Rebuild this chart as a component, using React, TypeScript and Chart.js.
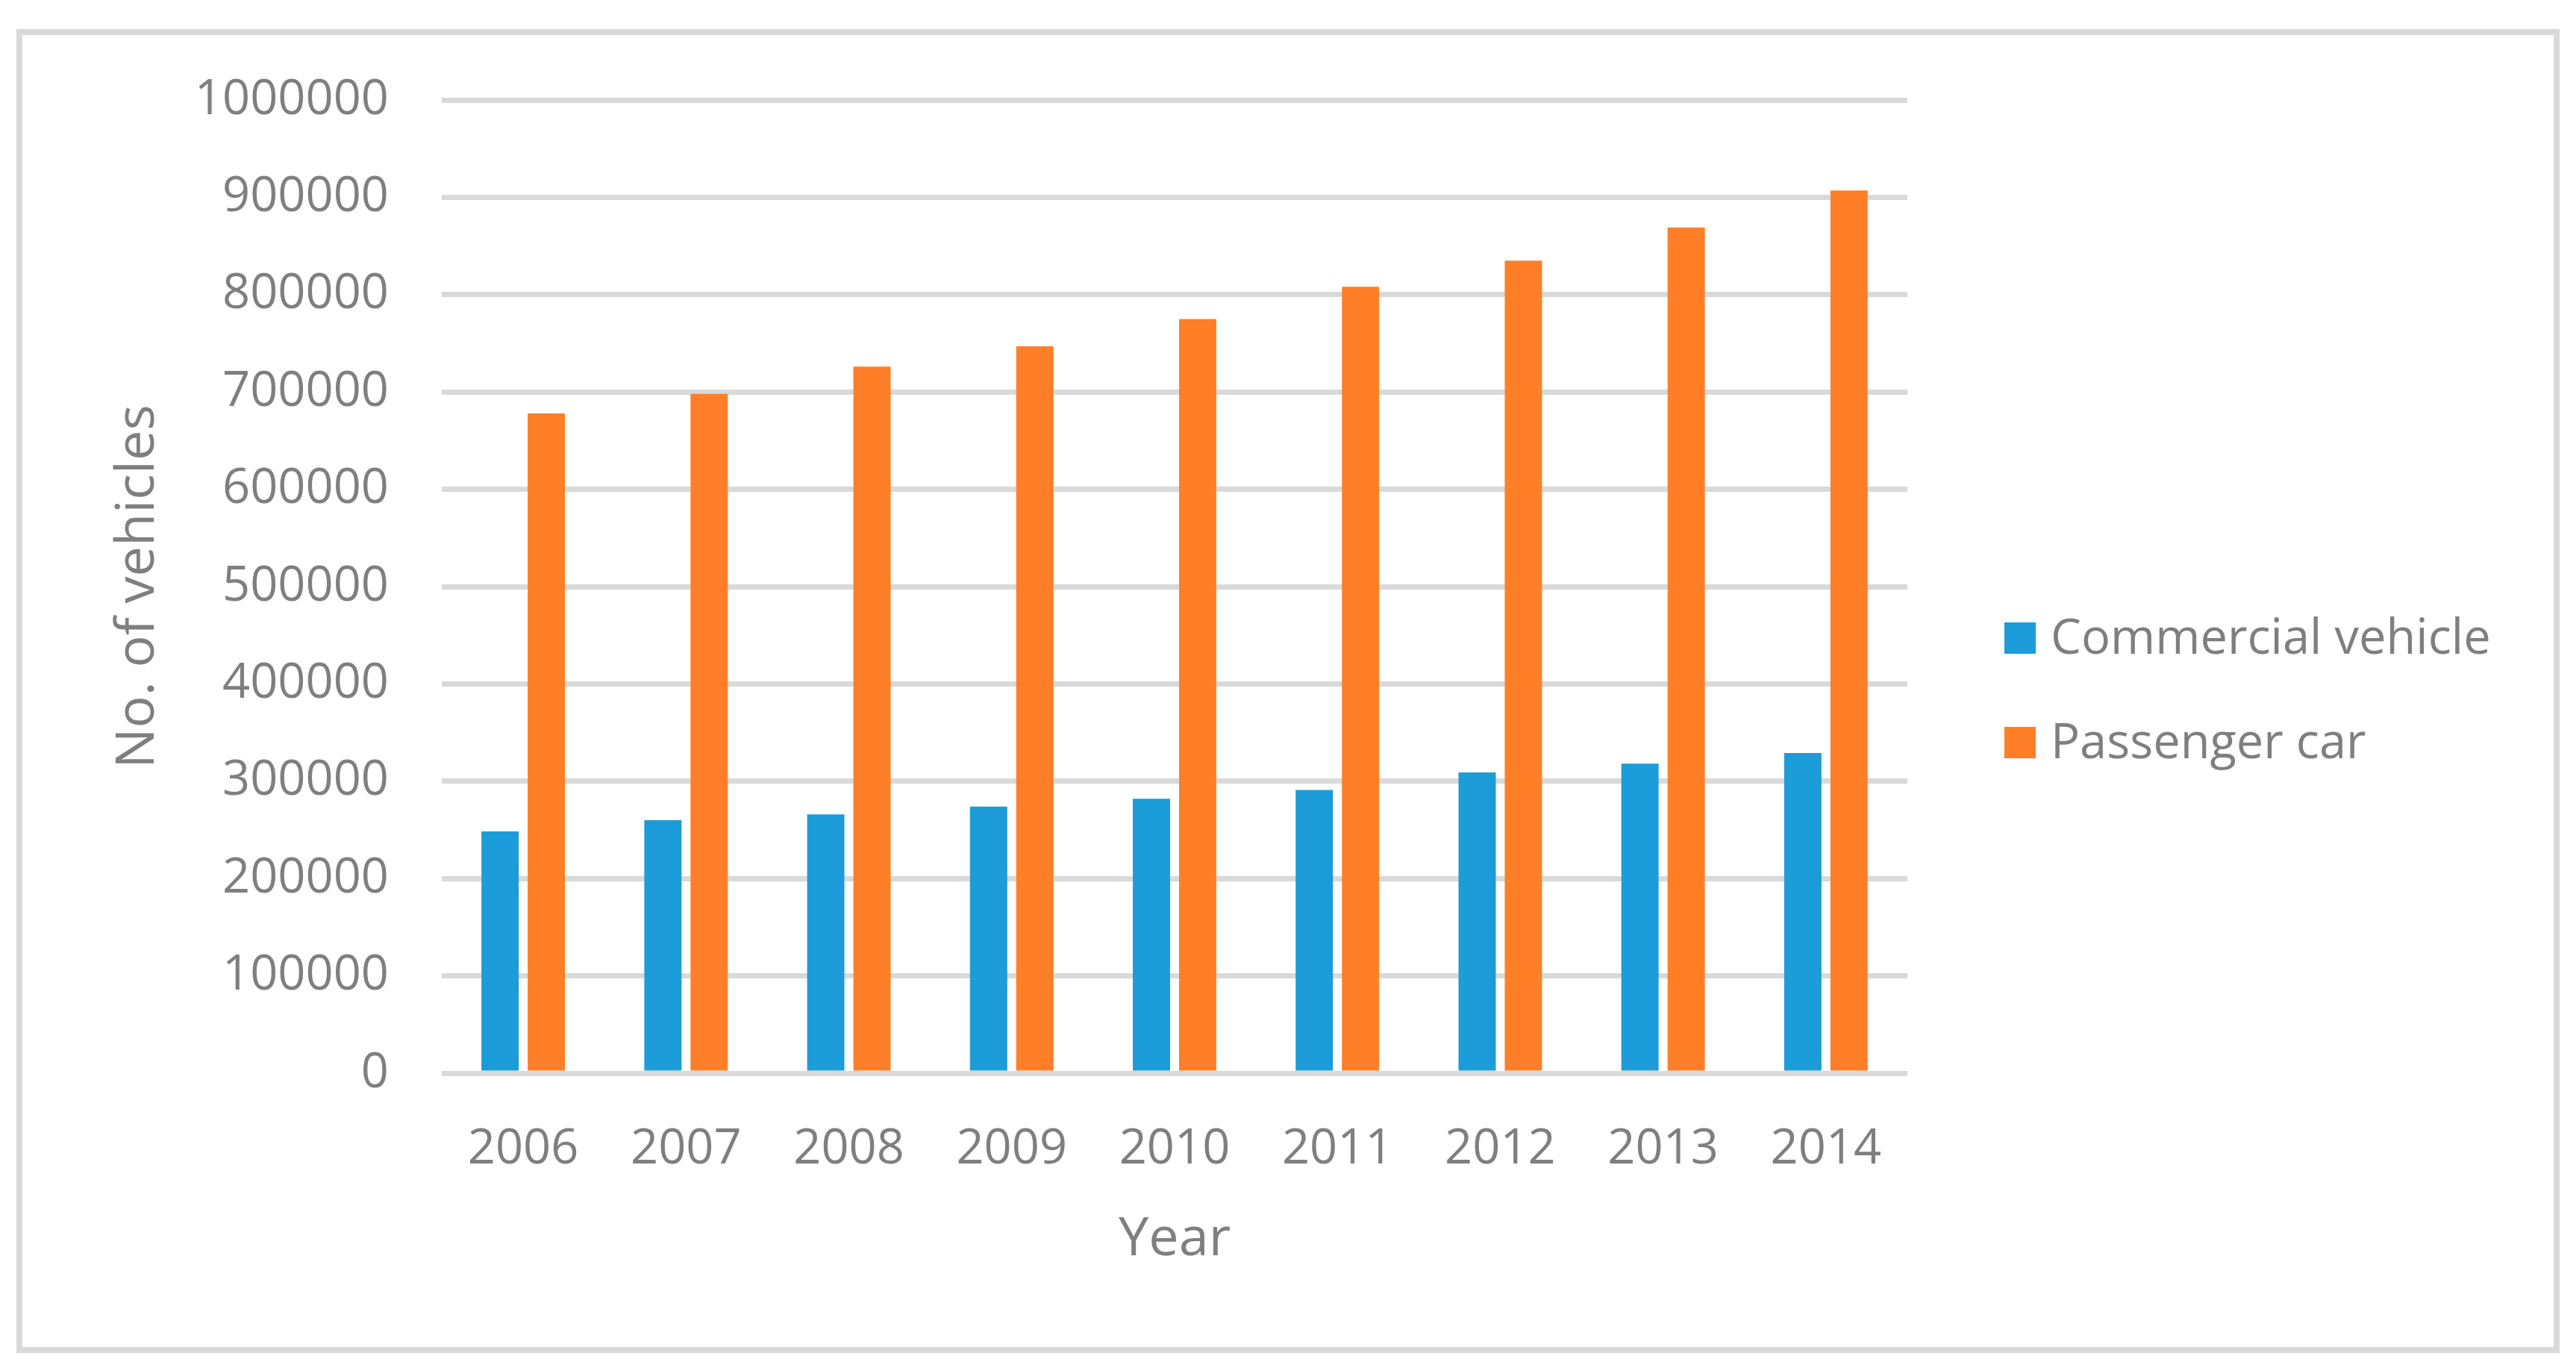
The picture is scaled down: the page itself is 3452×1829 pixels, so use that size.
import React, { useEffect, useRef } from "react";
import { Chart, registerables } from "chart.js";

Chart.register(...registerables);

const years = ["2006", "2007", "2008", "2009", "2010", "2011", "2012", "2013", "2014"];
const commercialVehicle = [248500, 260000, 266000, 274000, 282000, 291000, 309000, 318000, 329000];
const passengerCar = [678000, 698000, 726000, 747000, 775000, 808000, 835000, 869000, 907000];
const seriesLabels = ["Commercial vehicle", "Passenger car"];
const seriesColors = ["#1c9cd8", "#fe7f27"];
const yMin = 0;
const yMax = 1000000;
const yStep = 100000;
const xTitle = "Year";
const yTitle = "No. of vehicles";

const W = 3452;
const H = 1829;
const TEXT = "#7f7f7f";
const GRID = "#d9d9d9";
const FONT = "Open Sans";

const framePlugin = {
  id: "frame",
  beforeDraw(chart: any) {
    const ctx = chart.ctx;
    ctx.save();
    ctx.fillStyle = "#ffffff";
    ctx.fillRect(0, 0, chart.width, chart.height);
    ctx.strokeStyle = GRID;
    ctx.lineWidth = 8;
    ctx.strokeRect(26, 43, 3400, 1766);
    ctx.restore();
  },
};

const legendPlugin = {
  id: "sideLegend",
  afterDraw(chart: any) {
    const ctx = chart.ctx;
    ctx.save();
    ctx.font = `65px "${FONT}"`;
    ctx.textBaseline = "middle";
    ctx.textAlign = "left";
    chart.data.datasets.forEach((ds: any, i: number) => {
      const cy = 855 + i * 140;
      ctx.fillStyle = ds.backgroundColor;
      ctx.fillRect(2686, cy - 21, 42, 42);
      ctx.fillStyle = TEXT;
      ctx.fillText(ds.label, 2748, cy + 2);
    });
    ctx.restore();
  },
};

export default function App() {
  const ref = useRef<HTMLCanvasElement | null>(null);

  useEffect(() => {
    if (!ref.current) return;
    const chart = new Chart(ref.current, {
      type: "bar",
      data: {
        labels: years,
        datasets: [
          {
            label: seriesLabels[0],
            data: commercialVehicle,
            backgroundColor: seriesColors[0],
            categoryPercentage: 0.568,
            barPercentage: 0.806,
          },
          {
            label: seriesLabels[1],
            data: passengerCar,
            backgroundColor: seriesColors[1],
            categoryPercentage: 0.568,
            barPercentage: 0.806,
          },
        ],
      },
      options: {
        animation: false,
        responsive: false,
        devicePixelRatio: 1,
        layout: { padding: { left: 0, top: 134, right: 896, bottom: 0 } },
        plugins: {
          legend: { display: false },
          tooltip: { enabled: false },
        },
        scales: {
          x: {
            grid: { display: false, drawTicks: false },
            border: { display: false },
            ticks: {
              color: TEXT,
              font: { family: FONT, size: 65 },
              padding: 63,
              maxRotation: 0,
            },
            title: {
              display: true,
              text: xTitle,
              color: TEXT,
              font: { family: FONT, size: 72 },
              padding: { top: 0, bottom: 124 },
            },
            afterFit(scale: any) {
              scale.height = 391;
            },
          },
          y: {
            min: yMin,
            max: yMax,
            grid: { color: GRID, lineWidth: 7, drawTicks: false },
            border: { display: false },
            ticks: {
              stepSize: yStep,
              color: TEXT,
              font: { family: FONT, size: 65 },
              padding: 71,
              callback: (v: any) => String(v),
            },
            title: {
              display: true,
              text: yTitle,
              color: TEXT,
              font: { family: FONT, size: 72 },
              padding: { top: 142, bottom: 0 },
            },
            afterFit(scale: any) {
              scale.width = 592;
            },
          },
        },
      },
      plugins: [framePlugin, legendPlugin],
    });
    return () => chart.destroy();
  }, []);

  return (
    <div style={{ position: "fixed", left: 0, top: 0, width: W, height: H, background: "#fff" }}>
      <canvas ref={ref} width={W} height={H} style={{ width: W, height: H, display: "block" }} />
    </div>
  );
}
